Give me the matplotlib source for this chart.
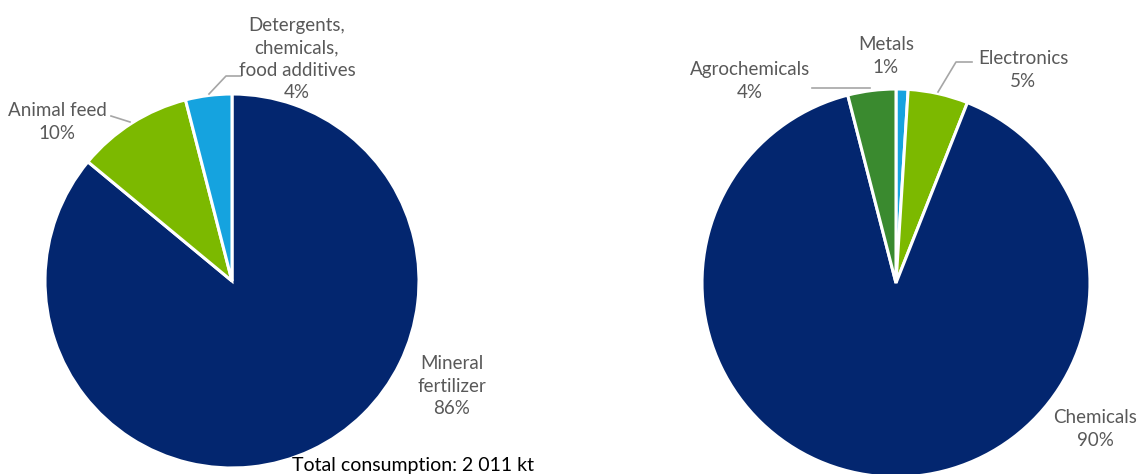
import matplotlib
matplotlib.use("Agg")
import matplotlib.pyplot as plt

# ---- data ----
left_labels = ["Mineral\nfertilizer", "Animal feed", "Detergents,\nchemicals,\nfood additives"]
left_values = [86, 10, 4]
left_colors = ["#03266f", "#7cb900", "#15a3df"]

right_labels = ["Metals", "Electronics", "Chemicals", "Agrochemicals"]
right_values = [1, 5, 90, 4]
right_colors = ["#15a3df", "#7cb900", "#03266f", "#3a8a2f"]

total_text = "Total consumption: 2 011 kt"

W, H = 1142, 474
plt.rcParams['font.family'] = ['Lato', 'DejaVu Sans']
fig = plt.figure(figsize=(W / 100, H / 100), dpi=100)
fig.patch.set_facecolor("white")
TXT = "#595959"
FS = 13.5


def make_ax(cx, cy, r):
    ax = fig.add_axes([(cx - r) / W, (H - cy - r) / H, 2 * r / W, 2 * r / H])
    ax.set_xlim(-1, 1)
    ax.set_ylim(-1, 1)
    ax.set_aspect("equal")
    ax.axis("off")
    return ax


def px(cx, cy, r, x, y):
    return (x - cx) / r, (cy - y) / r


def label(ax, C, x, y, s, **kw):
    X, Y = px(*C, x, y)
    ax.text(X, Y, s, ha="center", va="center", fontsize=FS, color=TXT,
            linespacing=1.4, clip_on=False, **kw)


def leader(ax, C, pts):
    xs, ys = zip(*[px(*C, x, y) for x, y in pts])
    ax.plot(xs, ys, color="#a6a6a6", lw=1.2, clip_on=False)


# ---- left pie ----
LC = (232, 281, 187)
axl = make_ax(*LC)
axl.pie(left_values, colors=left_colors, startangle=90, counterclock=False,
        radius=1, wedgeprops=dict(edgecolor="white", linewidth=2.2))
axl.set_xlim(-1, 1)
axl.set_ylim(-1, 1)

label(axl, LC, 452, 386, f"{left_labels[0]}\n{left_values[0]}%")
label(axl, LC, 57, 122, f"{left_labels[1]}\n{left_values[1]}%")
label(axl, LC, 297, 59, f"{left_labels[2]}\n{left_values[2]}%")
leader(axl, LC, [(111, 116), (130, 122)])
leader(axl, LC, [(209, 94), (226, 76), (241, 76)])

fig.text(292 / W, (H - 466) / H, total_text, ha="left", va="center",
         fontsize=14, color="#000000")

# ---- right pie ----
RC = (896, 283, 194)
axr = make_ax(*RC)
axr.pie(right_values, colors=right_colors, startangle=90, counterclock=False,
        radius=1, wedgeprops=dict(edgecolor="white", linewidth=2.2))
axr.set_xlim(-1, 1)
axr.set_ylim(-1, 1)

label(axr, RC, 886, 56, f"{right_labels[0]}\n{right_values[0]}%")
label(axr, RC, 1023, 70, f"{right_labels[1]}\n{right_values[1]}%")
label(axr, RC, 1095, 429, f"{right_labels[2]}\n{right_values[2]}%")
label(axr, RC, 750, 81, f"{right_labels[3]}\n{right_values[3]}%")
leader(axr, RC, [(812, 88), (870, 88)])
leader(axr, RC, [(938, 92), (956, 62), (972, 62)])

fig.savefig("out.png", dpi=100, facecolor="white")
